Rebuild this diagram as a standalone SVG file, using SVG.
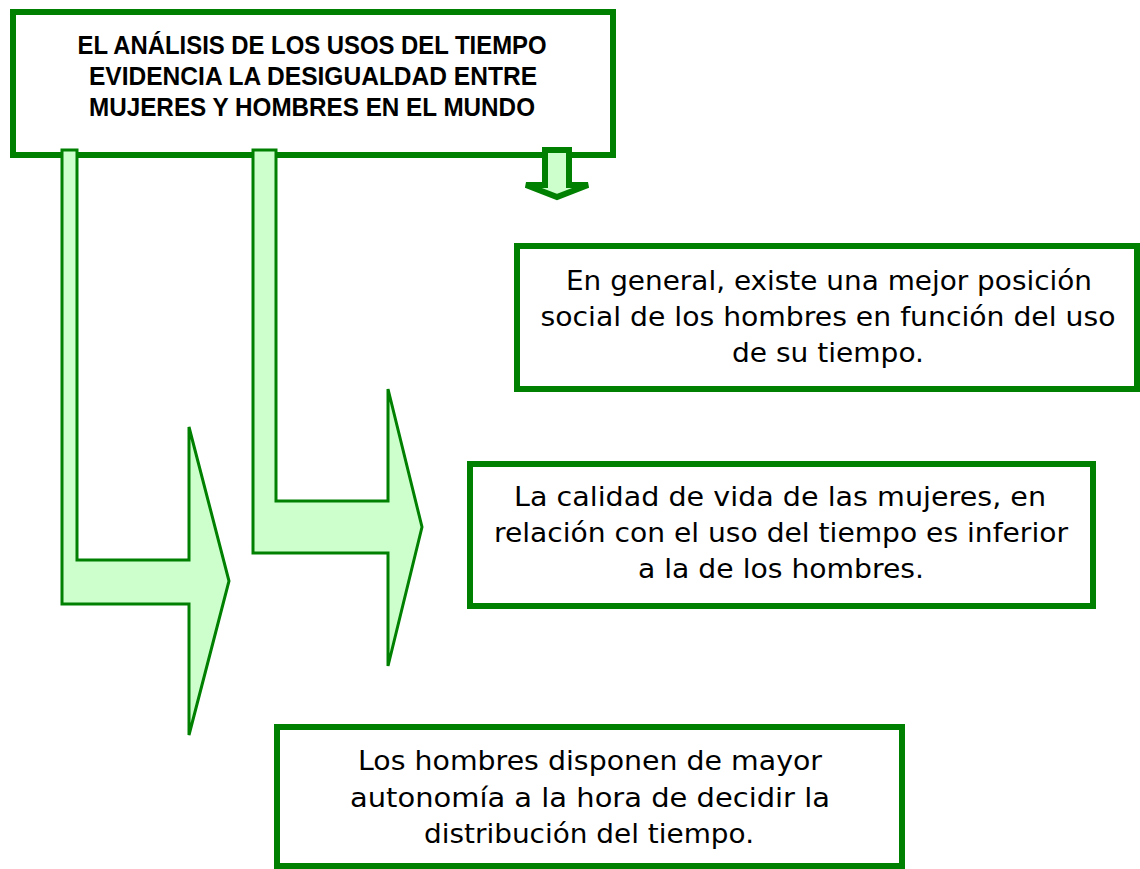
<svg xmlns="http://www.w3.org/2000/svg" width="1140" height="869" viewBox="0 0 1140 869">
<style>
.box{fill:#ffffff;stroke:#008000;stroke-width:6}
.arr{fill:#ccffcc;stroke:#008000;stroke-width:3;stroke-linejoin:miter}
.arrs{fill:#ccffcc;stroke:#008000;stroke-width:6;stroke-linejoin:miter}
.t{font-family:"DejaVu Sans","Liberation Sans",sans-serif;font-size:26px;fill:#000000;text-anchor:middle}
.h{font-family:"Liberation Sans","DejaVu Sans",sans-serif;font-size:25px;font-weight:bold;fill:#000000;text-anchor:middle}
</style>
<rect width="1140" height="869" fill="#ffffff"/>
<g id="title">
<rect class="box" x="13" y="12" width="600" height="143"/>
<text class="h" x="312" y="54" textLength="469" lengthAdjust="spacingAndGlyphs">EL ANÁLISIS DE LOS USOS DEL TIEMPO</text>
<text class="h" x="313" y="85" textLength="448" lengthAdjust="spacingAndGlyphs">EVIDENCIA LA DESIGUALDAD ENTRE</text>
<text class="h" x="312" y="116" textLength="446" lengthAdjust="spacingAndGlyphs">MUJERES Y HOMBRES EN EL MUNDO</text>
</g>
<g id="box-a">
<rect class="box" x="517" y="246" width="620" height="143"/>
<text class="t" x="829" y="290" textLength="526" lengthAdjust="spacingAndGlyphs">En general, existe una mejor posición</text>
<text class="t" x="828" y="326" textLength="575" lengthAdjust="spacingAndGlyphs">social de los hombres en función del uso</text>
<text class="t" x="828" y="362" textLength="192" lengthAdjust="spacingAndGlyphs">de su tiempo.</text>
</g>
<g id="box-b">
<rect class="box" x="470" y="464" width="623" height="142"/>
<text class="t" x="780" y="506" textLength="532" lengthAdjust="spacingAndGlyphs">La calidad de vida de las mujeres, en</text>
<text class="t" x="781" y="542" textLength="574" lengthAdjust="spacingAndGlyphs">relación con el uso del tiempo es inferior</text>
<text class="t" x="781" y="578" textLength="286" lengthAdjust="spacingAndGlyphs">a la de los hombres.</text>
</g>
<g id="box-c">
<rect class="box" x="277" y="727" width="625" height="139"/>
<text class="t" x="590" y="770" textLength="464" lengthAdjust="spacingAndGlyphs">Los hombres disponen de mayor</text>
<text class="t" x="590" y="807" textLength="480" lengthAdjust="spacingAndGlyphs">autonomía a la hora de decidir la</text>
<text class="t" x="589" y="843" textLength="330" lengthAdjust="spacingAndGlyphs">distribución del tiempo.</text>
</g>
<g id="connectors">
<polygon class="arr" points="62,150 62,604 189,604 189,735 229,581 189,427 189,560 77,560 77,150"/>
<polygon class="arr" points="253,150 253,553 388,553 388,666 422,527 388,389 388,501 276,501 276,150"/>
<polygon class="arrs" points="545,150 569,150 569,185 588,185 557,197 526,185 545,185"/>
</g>
</svg>
